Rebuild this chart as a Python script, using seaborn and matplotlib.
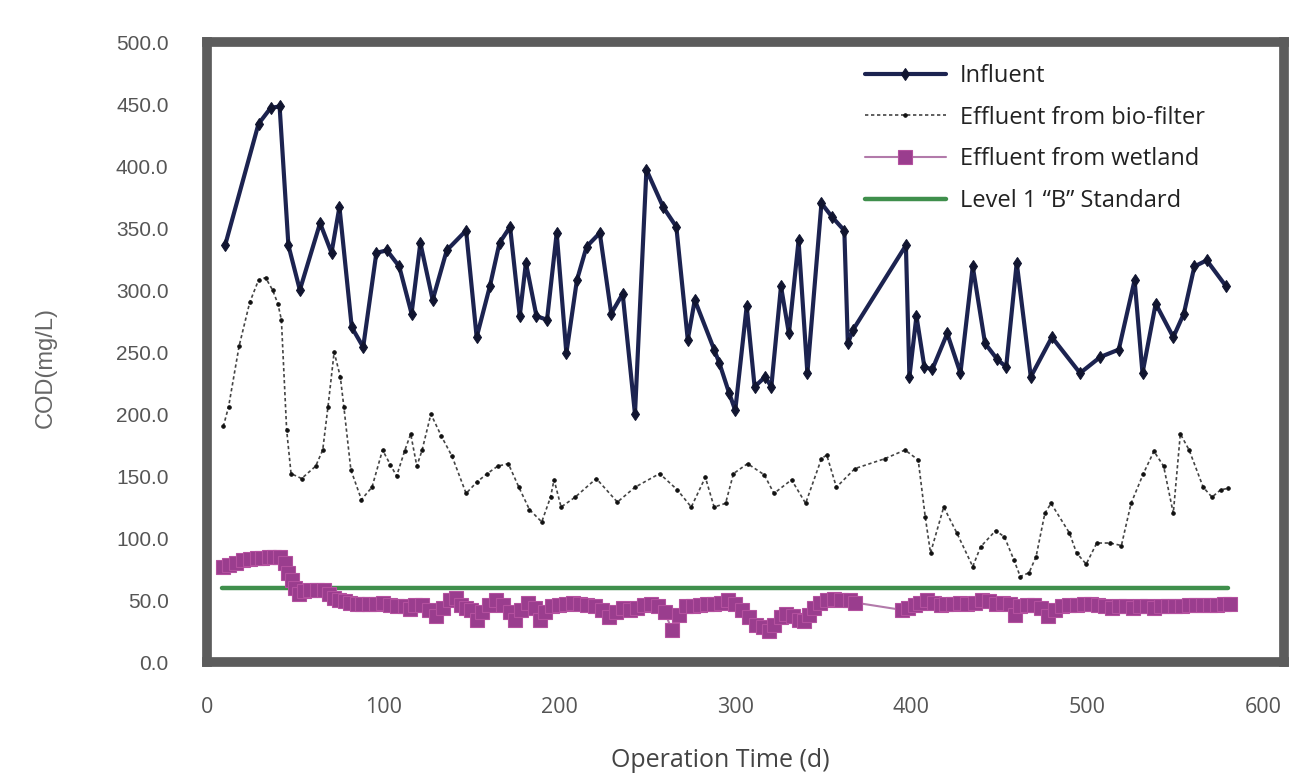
import matplotlib
matplotlib.use("Agg")
import matplotlib.pyplot as plt
import seaborn as sns
import pandas as pd

# ---------------- data ----------------
infl_x = [10, 29, 36, 41, 46, 52.5, 64, 70.5, 75, 82, 88.5, 96, 102, 109, 116, 121, 128, 136,
          147, 153, 160.5, 166, 172, 177.5, 181, 187, 193, 198.5, 204, 210, 215.5, 223, 229.5,
          236, 243, 249.5, 259, 266.5, 273, 277, 288, 291, 296.5, 300, 306.5, 311, 317, 320.5,
          326, 330.5, 336, 341, 349, 355, 362, 364, 367, 397, 399, 403, 407.5, 412, 420.5, 428,
          435, 442, 449, 454, 460, 468, 480, 496, 507.5, 518, 527, 531.5, 539, 549, 555, 561,
          568, 579]
infl_y = [336, 434, 447, 448, 336, 300, 354, 330, 367, 270, 254, 330, 332, 319, 281, 338, 292, 332,
          348, 262, 303, 338, 351, 279, 322, 279, 276, 346, 249, 308, 335, 346, 281,
          297, 200, 397, 367, 351, 260, 292, 252, 241, 217, 203, 287, 222, 230, 222,
          303, 265, 340, 233, 370, 359, 348, 257, 268, 336, 230, 279, 238, 236, 265, 233,
          319, 257, 244, 238, 322, 230, 262, 233, 246, 252, 308, 233, 289, 262, 281, 319,
          324, 303]

bio_x = [9, 12, 18, 24, 29, 33, 37, 40, 42, 45, 47.5, 53.5, 61.5, 65.5, 68.5, 72, 75.5, 77.5,
         81.5, 87.5, 93.5, 99.5, 104, 107.5, 112, 115.5, 119, 122, 127, 133, 139, 147, 153, 159,
         165, 171, 177, 183, 190, 195, 197, 201, 209, 221, 233, 243, 257, 267, 275, 283, 288,
         294.5, 299, 307, 316.5, 322, 332, 340, 349, 352, 357.5, 368, 385, 396.5, 404, 408, 411,
         418.5, 426, 435, 439.5, 448, 453, 458.5, 462, 467, 471, 476, 479.5, 490, 494, 499.5,
         505.5, 513, 519.5, 525, 532, 538, 543.5, 549, 553, 558, 566, 571, 576, 580]
bio_y = [190, 206, 255, 290, 308, 310, 300, 289, 276, 187, 152, 148, 158, 171, 206, 250, 230, 206,
         155, 131, 141, 171, 159, 150, 170, 184, 158, 171, 200, 182, 166, 136, 145, 152,
         158, 160, 141, 123, 113, 133, 147, 125, 133, 148, 129, 141, 152, 139, 125, 149, 125,
         128, 152, 160, 151, 136, 147, 128, 164, 167, 141, 156, 164, 171, 163, 117, 88,
         125, 104, 77, 93, 106, 101, 82, 69, 72, 85, 120, 128, 104, 88, 79,
         96, 96, 94, 128, 152, 170, 158, 120, 184, 171, 141, 133, 139, 140]

wet_x = [9, 12, 16, 20, 24, 28, 31, 35, 38, 41, 44, 46, 48, 50, 52, 55, 58, 62, 66, 69, 72, 75,
         78, 81, 85, 88, 92, 96, 100, 104, 108, 112, 115, 118, 122, 126, 130, 134, 138, 141, 144,
         147, 150, 153, 156, 160, 164, 168, 172, 175, 178, 182, 186, 189, 192, 196, 200, 204, 208,
         212, 216, 220, 224, 228, 232, 236, 240, 244, 248, 252, 256, 260, 264, 268, 272, 276, 280,
         284, 288, 292, 296, 300, 304, 308, 312, 316, 319, 322, 326, 329, 333, 336, 339, 342, 345,
         348, 352, 356, 360, 365, 368, 395, 398, 402, 405, 409, 413, 417, 420, 424, 428, 432, 436,
         440, 444, 448, 452, 456, 459, 462, 466, 470, 474, 478, 482, 486, 490, 494, 498, 502, 506,
         510, 514, 518, 522, 526, 530, 534, 538, 542, 546, 550, 554, 558, 562, 566, 570, 574, 578,
         581]
wet_y = [77, 78, 80, 82, 83, 84, 84, 85, 85, 85, 80, 72, 66, 60, 55, 57, 58, 58, 58, 55, 52, 50,
         49, 48, 47, 47, 47, 47, 48, 46, 45, 45, 43, 46, 46, 42, 37, 44, 50, 52, 46,
         44, 42, 34, 40, 46, 50, 46, 40, 34, 42, 48, 44, 34, 40, 45, 46, 47, 48,
         47, 46, 45, 42, 36, 40, 44, 42, 44, 46, 47, 45, 40, 26, 38, 45, 45, 46,
         47, 47, 48, 50, 47, 42, 36, 30, 28, 25, 30, 36, 39, 37, 34, 33, 38, 44,
         48, 50, 51, 50, 50, 48, 42, 44, 46, 48, 50, 48, 46, 47, 47, 48, 47, 48,
         50, 49, 47, 48, 47, 38, 45, 46, 46, 44, 37, 42, 45, 46, 46, 47, 47, 46,
         45, 44, 45, 45, 44, 45, 45, 44, 45, 45, 45, 45, 46, 46, 46, 46, 46, 47,
         47]

std_x = [8, 580]
std_y = [60, 60]

labels = ["Influent", "Effluent from bio-filter", "Effluent from wetland",
          "Level 1 \u201cB\u201d Standard"]
xticks = [0, 100, 200, 300, 400, 500, 600]
yticks = [0, 50, 100, 150, 200, 250, 300, 350, 400, 450, 500]

# ---------------- plotting ----------------
sns.set_style("white")
plt.rcParams['font.family'] = ['Liberation Sans', 'DejaVu Sans']

fig = plt.figure(figsize=(13.05, 7.78), dpi=100)
ax = fig.add_axes([0.159, 0.149, 0.825, 0.797])

df_in = pd.DataFrame({"x": infl_x, "y": infl_y})
df_bio = pd.DataFrame({"x": bio_x, "y": bio_y})
df_wet = pd.DataFrame({"x": wet_x, "y": wet_y})
df_std = pd.DataFrame({"x": std_x, "y": std_y})

sns.lineplot(data=df_std, x="x", y="y", ax=ax, color="#3f8f4c", linewidth=3.2,
             sort=False, estimator=None, label=labels[3], zorder=2)
sns.lineplot(data=df_wet, x="x", y="y", ax=ax, color="#b27aaa", linewidth=1.5,
             marker="s", markersize=10, markerfacecolor="#9a3d8e", markeredgecolor="#b4509f",
             markeredgewidth=0.8, sort=False, estimator=None, label=labels[2], zorder=3)
sns.lineplot(data=df_bio, x="x", y="y", ax=ax, color="#444444", linewidth=1.2,
             linestyle=(0, (2, 1.6)), marker="o", markersize=2.5, markerfacecolor="#111111",
             markeredgecolor="#111111", sort=False, estimator=None, label=labels[1], zorder=4)
sns.lineplot(data=df_in, x="x", y="y", ax=ax, color="#1c2350", linewidth=3.0,
             marker="d", markersize=6, markerfacecolor="#111530", markeredgecolor="#111530",
             sort=False, estimator=None, label=labels[0], zorder=5)

ax.set_xlim(0, 612)
ax.set_ylim(0, 500)
ax.set_xticks(xticks)
ax.set_xticklabels([str(v) for v in xticks])
ax.set_yticks(yticks)
ax.set_yticklabels([f"{v:.1f}" for v in yticks])

for s in ax.spines.values():
    s.set_visible(True)
    s.set_color("#5c5c5c")
    s.set_linewidth(7)

ax.tick_params(axis="x", direction="in", length=9, width=1.3, color="#333333",
               pad=25, labelsize=15.5, labelcolor="#555555")
ax.tick_params(axis="y", length=0, pad=28, labelsize=15, labelcolor="#555555")
for t in ax.get_xticklabels():
    t.set_fontfamily(["Open Sans", "DejaVu Sans"])

ax.set_xlabel("Operation Time (d)", fontsize=18, color="#444444",
              fontfamily=["Open Sans", "DejaVu Sans"])
ax.xaxis.set_label_coords(0.476, -0.138)
ax.set_ylabel("COD(mg/L)", fontsize=17, color="#666666")
ax.yaxis.set_label_coords(-0.14, 0.475)

handles, lbls = ax.get_legend_handles_labels()
order = [lbls.index(l) for l in labels]
leg = ax.legend([handles[i] for i in order], [lbls[i] for i in order],
                loc="upper left", bbox_to_anchor=(0.654, 0.933),
                bbox_transform=fig.transFigure, frameon=False,
                handlelength=3.4, handletextpad=0.6, labelspacing=0.75, borderpad=0,
                prop={"family": ["Open Sans", "DejaVu Sans"], "size": 17})
for t in leg.get_texts():
    t.set_color("#222222")

fig.savefig("out.png", dpi=100, facecolor="white")
